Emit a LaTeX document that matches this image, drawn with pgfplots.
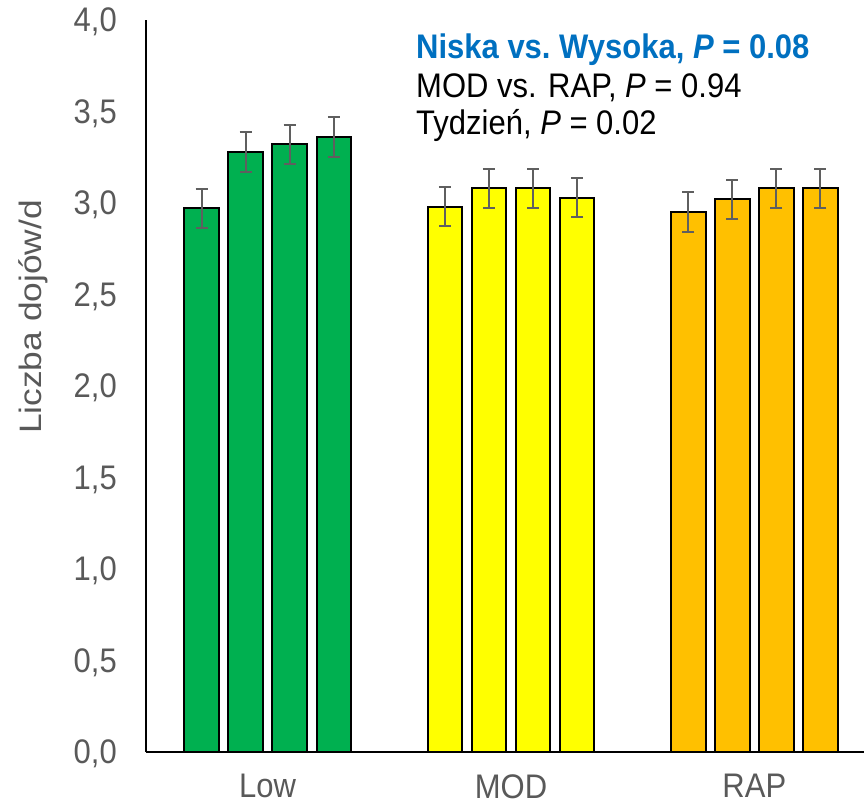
\documentclass[border=0pt]{standalone}
\usepackage{pgfplots}
\pgfplotsset{compat=1.18}
\usepackage{fontspec}
\setmainfont{Liberation Sans}
\usetikzlibrary{calc}

\definecolor{barGreen}{HTML}{00B050}
\definecolor{barYellow}{HTML}{FFFF00}
\definecolor{barOrange}{HTML}{FFC000}
\definecolor{statBlue}{HTML}{0070C0}
\definecolor{labelGray}{HTML}{595959}
\definecolor{errGray}{HTML}{5F5F5F}

% text is set slightly taller than wide
\newcommand\vs[1]{\scalebox{1}[1.1]{#1}}
\newcommand\chartfont{\fontsize{31}{36}\selectfont}

\pgfplotsset{
  meanbar/.style={
    draw=black, line width=2pt, fill=#1,
    error bars/y dir=both, error bars/y explicit,
    error bars/error bar style={line width=2pt, draw=errGray},
    error bars/error mark options={rotate=90, mark size=6pt, line width=2pt, draw=errGray},
  },
}

\begin{document}
\begin{tikzpicture}
\begin{axis}[
  name=ax,
  scale only axis,
  width=718pt, height=732pt,
  xmin=-0.5, xmax=2.4506,
  ymin=0, ymax=4,
  axis x line=bottom, axis y line=left,
  axis line style={-, black, line width=2pt},
  ytick={0,0.5,1,1.5,2,2.5,3,3.5,4},
  yticklabels={\vs{0,0},\vs{0,5},\vs{1,0},\vs{1,5},\vs{2,0},\vs{2,5},\vs{3,0},\vs{3,5},\vs{4,0}},
  xtick={0,1,2},
  xticklabels={\vs{Low},\vs{MOD},\vs{RAP}},
  major tick length=0pt,
  tick label style={font=\chartfont, text=labelGray, inner sep=0pt},
  yticklabel style={xshift=-29pt, text depth=0pt},
  xticklabel style={yshift=-22pt},
  ybar, bar width=34.5pt, bar shift=0pt,
  clip=false,
]
% Low
\addplot[meanbar=barGreen] coordinates {
  (-0.2716,2.97) +- (0,0.108)
  (-0.0905,3.28) +- (0,0.108)
  (0.0905,3.32) +- (0,0.108)
  (0.2716,3.36) +- (0,0.108)
};
% MOD
\addplot[meanbar=barYellow] coordinates {
  (0.7284,2.98) +- (0,0.108)
  (0.9095,3.08) +- (0,0.108)
  (1.0905,3.08) +- (0,0.108)
  (1.2716,3.03) +- (0,0.108)
};
% RAP
\addplot[meanbar=barOrange] coordinates {
  (1.7284,2.95) +- (0,0.108)
  (1.9095,3.02) +- (0,0.108)
  (2.0905,3.08) +- (0,0.108)
  (2.2716,3.08) +- (0,0.108)
};
\end{axis}

% axis title
\node[rotate=90, anchor=center, inner sep=0pt, font=\chartfont, text=labelGray]
  at ($(ax.south west)+(-112.5pt,435pt)$) {\scalebox{1.14}[1]{Liczba dojów/d}};

% statistics
\node[anchor=base west, inner sep=0pt, font=\chartfont\bfseries, text=statBlue]
  at ($(ax.south west)+(270pt,693.7pt)$) {\vs{Niska vs.~Wysoka, \textit{P}\;=\;0.08}};
\node[anchor=base west, inner sep=0pt, font=\chartfont, text=black]
  at ($(ax.south west)+(270pt,654.7pt)$) {\vs{MOD vs. RAP, \textit{P}\;=\;0.94}};
\node[anchor=base west, inner sep=0pt, font=\chartfont, text=black]
  at ($(ax.south west)+(270pt,617pt)$) {\vs{Tydzień, \textit{P}\;=\;0.02}};

\pgfresetboundingbox
\path[use as bounding box] ($(ax.south west)+(-146pt,-53pt)$) rectangle ($(ax.south west)+(718pt,752pt)$);
\end{tikzpicture}
\end{document}
